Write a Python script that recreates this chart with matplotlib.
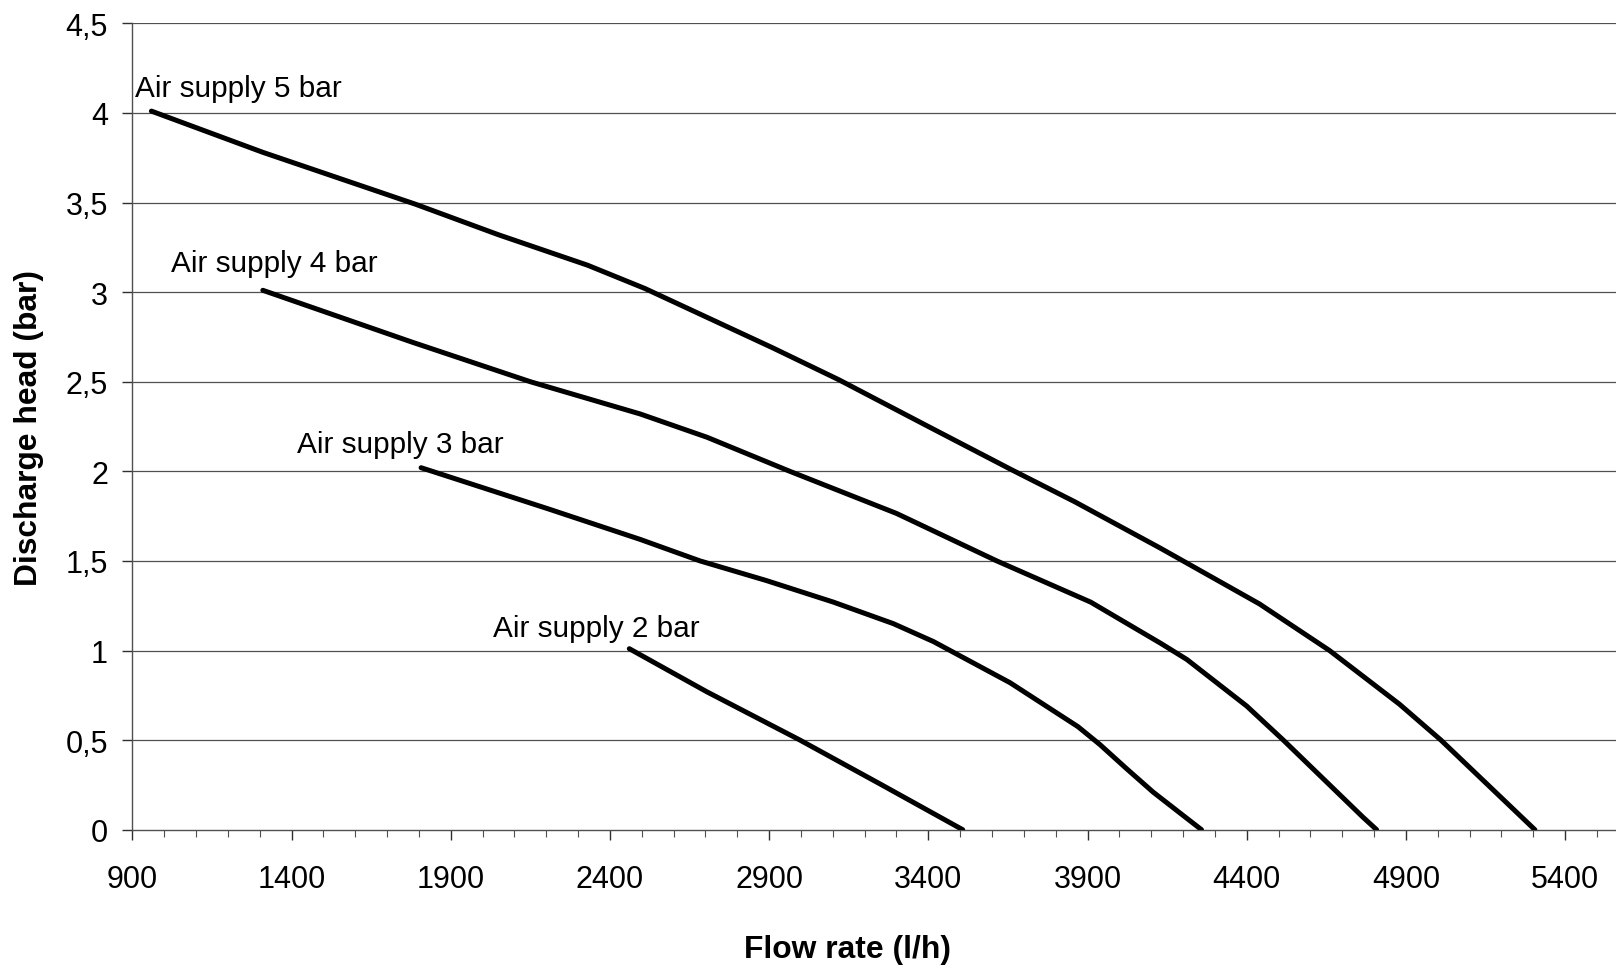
import matplotlib
matplotlib.use("Agg")
import matplotlib.pyplot as plt
from matplotlib.ticker import FixedLocator, MultipleLocator

plt.rcParams['font.family'] = ['Liberation Sans', 'DejaVu Sans']

# ---- data ----
x5 = [960, 1310, 1790, 2050, 2330, 2510, 2910, 3120, 3400, 3660, 3860, 4130, 4440, 4660, 4880, 5010, 5305]
y5 = [4.01, 3.78, 3.49, 3.32, 3.15, 3.02, 2.69, 2.51, 2.25, 2.01, 1.83, 1.57, 1.26, 1.00, 0.70, 0.50, 0.00]

x4 = [1310, 1780, 2150, 2495, 2705, 2965, 3300, 3615, 3910, 4130, 4212, 4400, 4515, 4765, 4808]
y4 = [3.01, 2.72, 2.50, 2.32, 2.19, 2.00, 1.765, 1.50, 1.27, 1.04, 0.95, 0.69, 0.50, 0.07, 0.00]

x3 = [1807, 2207, 2495, 2683, 2892, 3102, 3290, 3416, 3657, 3870, 3939, 4023, 4106, 4200, 4258]
y3 = [2.02, 1.79, 1.62, 1.50, 1.39, 1.27, 1.15, 1.05, 0.82, 0.575, 0.475, 0.34, 0.21, 0.08, 0.00]

x2 = [2461, 2704, 2997, 3259, 3508]
y2 = [1.01, 0.77, 0.50, 0.245, 0.00]

series_labels = ["Air supply 5 bar", "Air supply 4 bar", "Air supply 3 bar", "Air supply 2 bar"]
label_x = [908, 1021, 1416, 2032]
label_y = [4.096, 3.119, 2.109, 1.083]

x_ticks = [900, 1400, 1900, 2400, 2900, 3400, 3900, 4400, 4900, 5400]
y_ticks = [0, 0.5, 1, 1.5, 2, 2.5, 3, 3.5, 4, 4.5]
y_tick_labels = ["0", "0,5", "1", "1,5", "2", "2,5", "3", "3,5", "4", "4,5"]
x_title = "Flow rate (l/h)"
y_title = "Discharge head (bar)"

# ---- figure ----
W, H = 1616, 970
fig = plt.figure(figsize=(W / 100, H / 100), dpi=100)
left_px, right_px, top_px, bottom_px = 132.3, 132.3 + 4700 / 3.1407, 24.3, 830.7
ax = fig.add_axes([left_px / W, 1 - bottom_px / H, (right_px - left_px) / W, (bottom_px - top_px) / H])
ax.set_xlim(900, 5600)
ax.set_ylim(0, 4.5)

grid_col = '#505050'
for yv in y_ticks[1:]:
    ax.axhline(yv, color=grid_col, lw=0.9, zorder=1)

for xs, ys in [(x5, y5), (x4, y4), (x3, y3), (x2, y2)]:
    ax.plot(xs, ys, color='black', lw=3.6, solid_capstyle='round', solid_joinstyle='round', zorder=3)

for t, lx, ly in zip(series_labels, label_x, label_y):
    ax.text(lx, ly, t, fontsize=21.4, ha='left', va='baseline', color='black', zorder=4)

for s in ['top', 'right']:
    ax.spines[s].set_visible(False)
for s in ['left', 'bottom']:
    ax.spines[s].set_color(grid_col)
    ax.spines[s].set_linewidth(1.0)

ax.xaxis.set_major_locator(FixedLocator(x_ticks))
ax.xaxis.set_minor_locator(MultipleLocator(100))
ax.set_xticklabels([str(v) for v in x_ticks])
ax.yaxis.set_major_locator(FixedLocator(y_ticks))
ax.set_yticklabels(y_tick_labels)

ax.tick_params(axis='x', which='major', direction='out', length=7.5, width=1.0, color='#303030',
               labelsize=22, pad=17)
ax.tick_params(axis='x', which='minor', direction='out', length=5, width=0.8, color='#505050')
ax.tick_params(axis='y', which='major', direction='out', length=7.5, width=1.0, color='#303030',
               labelsize=22, pad=10)

fig.text(847 / W, 1 - 950 / H, x_title, fontsize=22.9, fontweight='bold', ha='center', va='center')
fig.text(29 / W, 1 - 428 / H, y_title, fontsize=22.9, fontweight='bold', ha='center', va='center',
         rotation=90)

fig.savefig('out.png', dpi=100)
